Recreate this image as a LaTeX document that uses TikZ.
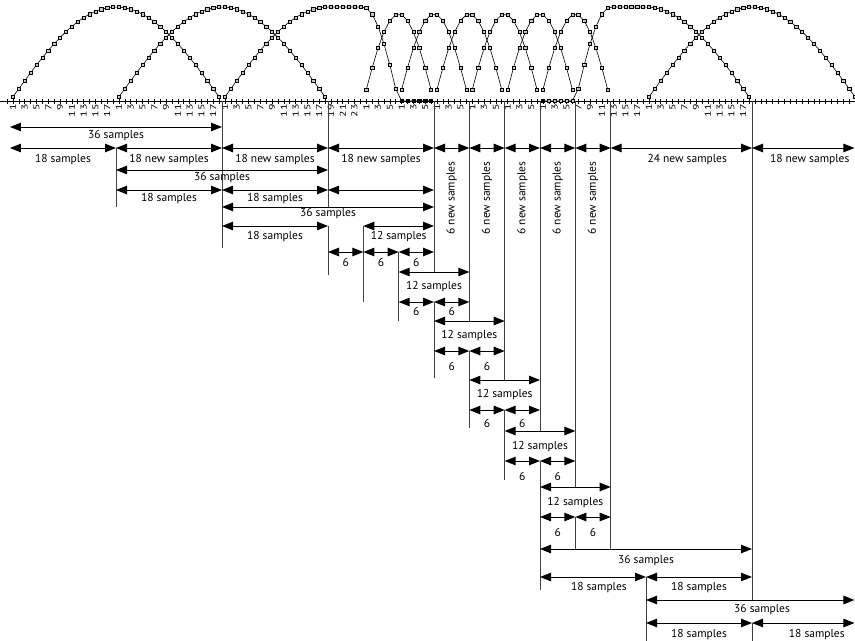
\documentclass[tikz,border=0pt]{standalone}
\usepackage{fontspec}
\setmainfont{PT Sans}
\usetikzlibrary{arrows.meta}
\begin{document}
\begin{tikzpicture}[x=5.889pt,y=-1pt,
  dimarr/.style={{Triangle[length=11pt,width=8.5pt]}-{Triangle[length=11pt,width=8.5pt]},line width=1pt},
  bline/.style={line width=0.8pt,black!75},
  lbl/.style={font=\fontsize{11.5}{12}\selectfont,inner sep=0pt},
  num/.style={font=\fontsize{8.5}{8.5}\selectfont,rotate=90,anchor=east,inner sep=0pt},
  win/.style={line width=0.6pt},
  mk/.style={draw,line width=0.5pt,fill=gray!45,rectangle,minimum size=3.2pt,inner sep=0pt}]
\useasboundingbox (-1.698,0) rectangle (143.49,641);

% sample axis
\draw[line width=0.6pt] (-1.698,101) -- (143.49,101);
\foreach \s in {-1,...,143} \draw[line width=0.5pt] (\s+0.5,98.5) -- (\s+0.5,103.5);

% windows
\foreach \a in {0,18,108} {
  \draw[win] plot[domain=0:35,samples=36] ({\a+\x+0.5},{101-94*sin(5*(\x+0.5))});
  \foreach \n in {0,...,35} \node[mk] (m\a-\n) at ({\a+\n+0.5},{101-94*sin(5*(\n+0.5))}) {};
}
\draw[win] plot[domain=0:35,samples=36] ({36.5+\x},{101-94*(\x<17.5 ? sin(5*(\x+0.5)) : (\x<23.5 ? 1 : (\x<29.5 ? sin(15*(\x-17.5)) : 0)))});
\foreach \n in {0,...,35}
  \node[mk] (mst\n) at ({36.5+\n},{101-94*(\n<17.5 ? sin(5*(\n+0.5)) : (\n<23.5 ? 1 : (\n<29.5 ? sin(15*(\n-17.5)) : 0)))}) {};
\foreach \a in {60,66,...,90} {
  \draw[win] plot[domain=0:11,samples=12] ({\a+\x+0.5},{101-87*sin(15*(\x+0.5))});
  \foreach \n in {0,...,11} \node[mk] (m\a-\n) at ({\a+\n+0.5},{101-87*sin(15*(\n+0.5))}) {};
}
\draw[win] plot[domain=0:35,samples=36] ({90.5+\x},{101-94*(\x<5.5 ? 0 : (\x<11.5 ? sin(15*(\x-5.5)) : (\x<17.5 ? 1 : sin(5*(\x+0.5)))))});
\foreach \n in {0,...,35}
  \node[mk] (msp\n) at ({90.5+\n},{101-94*(\n<5.5 ? 0 : (\n<11.5 ? sin(15*(\n-5.5)) : (\n<17.5 ? 1 : sin(5*(\n+0.5)))))}) {};
\foreach \s in {66,...,71,90,...,95} \node[mk,fill=black] (z\s) at (\s+0.5,101) {};

% sample numbers
\foreach \k in {1,3,...,17} {
  \node[num] (na\k) at (\k-0.5,104) {\scalebox{1.4}[1]{\k}};
  \node[num] (nb\k) at (18+\k-0.5,104) {\scalebox{1.4}[1]{\k}};
  \node[num] (ns\k) at (90+\k-0.5,104) {\scalebox{1.4}[1]{\k}};
  \node[num] (nf\k) at (108+\k-0.5,104) {\scalebox{1.4}[1]{\k}};
}
\foreach \k in {1,3,...,23} \node[num] (nc\k) at (36+\k-0.5,104) {\scalebox{1.4}[1]{\k}};
\foreach \a in {60,66,...,84} \foreach \k in {1,3,5}
  \node[num] (n\a-\k) at (\a+\k-0.5,104) {\scalebox{1.4}[1]{\k}};

% block boundaries
\foreach \s/\ya/\yb in {18/148/207, 36/101/248, 54/101/207, 54/226/275, 60/226/302, 66/252/321,
  72/101/272, 72/302/378, 78/101/321, 78/351/428, 84/101/380, 84/410/480, 90/101/431, 90/461/590,
  96/101/487, 96/517/549, 102/101/549, 108/577/641, 126/101/600, 126/623/641}
  \draw[bline] (\s,\ya) -- (\s,\yb);

% extents
\foreach \a/\b/\y in {0/36/127, 0/18/148, 18/36/148, 36/54/148, 54/72/148, 72/78/148, 78/84/148,
  84/90/148, 90/96/148, 96/102/148, 102/126/148, 126/143.4/148,
  18/54/170, 18/36/190, 36/54/190, 54/72/190, 36/72/207, 36/54/226, 60/72/226,
  54/60/252, 60/66/252, 66/72/252, 66/78/272, 66/72/302, 72/78/302, 72/84/321, 72/78/351, 78/84/351,
  78/90/380, 78/84/410, 84/90/410, 84/96/431, 84/90/461, 90/96/461, 90/102/487, 90/96/517, 96/102/517,
  90/126/549, 90/108/577, 108/126/577, 108/143.4/600, 108/126/623, 126/143.4/623}
  \draw[dimarr] (\a,\y) -- (\b,\y);

\foreach \x/\y/\t [count=\i] in {18/136/36 samples, 9/160/18 samples, 27/160/18 new samples,
  45/160/18 new samples, 63/160/18 new samples, 115/160/24 new samples, 135.8/160/18 new samples,
  36/178/36 samples, 27/199/18 samples, 45/199/18 samples, 54/214/36 samples, 45/237/18 samples,
  66/237/12 samples, 57/262/6, 63/262/6, 69/262/6, 72/287/12 samples, 69/311/6, 75/311/6,
  78/336/12 samples, 75/366/6, 81/366/6, 84/395/12 samples, 81/423/6, 87/423/6, 90/447/12 samples,
  87/476/6, 93/476/6, 96/503/12 samples, 93/532/6, 99/532/6, 108/561/36 samples,
  100/588/18 samples, 117/588/18 samples, 127.7/610/36 samples, 117/635/18 samples, 137/635/18 samples}
  \node[lbl] (lab\i) at (\x,\y) {\t};
\foreach \x [count=\i] in {75,81,...,99} \node[lbl,rotate=90] (new\i) at (\x,198) {6 new samples};
\end{tikzpicture}
\end{document}
